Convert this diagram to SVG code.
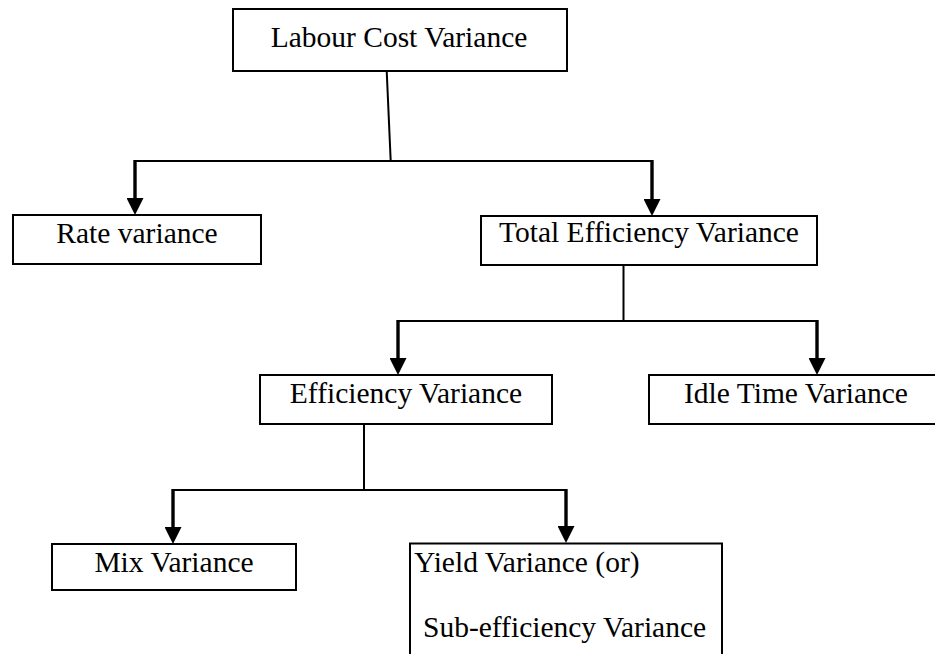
<svg xmlns="http://www.w3.org/2000/svg" width="935" height="654" viewBox="0 0 935 654">
  <style>
    .box { fill: #ffffff; stroke: #000000; stroke-width: 2; }
    .label { font-family: "Liberation Serif", "Times New Roman", serif; font-size: 29.5px; fill: #000000; }
    .mid { text-anchor: middle; }
    .link { fill: none; stroke: #000000; stroke-width: 2; }
    .drop { fill: none; stroke: #000000; stroke-width: 3.4; marker-end: url(#head); }
  </style>
  <defs>
    <marker id="head" markerUnits="userSpaceOnUse" markerWidth="17" markerHeight="17" viewBox="0 0 17 17" refX="1" refY="8.5" orient="auto">
      <path d="M0,0 L17,8.5 L0,17 Z" fill="#000000"/>
    </marker>
  </defs>

  <rect width="935" height="654" fill="#ffffff"/>

  <g id="connectors">
    <!-- Labour Cost Variance split -->
    <line class="link" x1="386.7" y1="71" x2="390.7" y2="161"/>
    <line class="link" x1="134" y1="161" x2="653" y2="161"/>
    <line class="drop" x1="135" y1="160" x2="135" y2="199"/>
    <line class="drop" x1="652" y1="160" x2="652" y2="200"/>
    <!-- Total Efficiency Variance split -->
    <line class="link" x1="623.5" y1="265" x2="623.5" y2="321"/>
    <line class="link" x1="397" y1="321" x2="818" y2="321"/>
    <line class="drop" x1="398" y1="320" x2="398" y2="359"/>
    <line class="drop" x1="817" y1="320" x2="817" y2="359"/>
    <!-- Efficiency Variance split -->
    <line class="link" x1="364" y1="424" x2="364" y2="490"/>
    <line class="link" x1="172" y1="490" x2="567" y2="490"/>
    <line class="drop" x1="173" y1="489" x2="173" y2="528"/>
    <line class="drop" x1="566" y1="489" x2="566" y2="527"/>
  </g>

  <g id="labour-cost-variance">
    <rect class="box" x="233" y="9" width="334" height="62"/>
    <text class="label mid" x="399" y="47">Labour Cost Variance</text>
  </g>

  <g id="rate-variance">
    <rect class="box" x="13" y="215" width="248" height="49"/>
    <text class="label mid" x="137" y="243">Rate variance</text>
  </g>

  <g id="total-efficiency-variance">
    <rect class="box" x="481" y="216" width="336" height="49"/>
    <text class="label mid" x="649" y="242">Total Efficiency Variance</text>
  </g>

  <g id="efficiency-variance">
    <rect class="box" x="260" y="375" width="292" height="49"/>
    <text class="label mid" x="406" y="403">Efficiency Variance</text>
  </g>

  <g id="idle-time-variance">
    <rect class="box" x="649" y="375" width="294" height="49"/>
    <text class="label mid" x="796" y="403">Idle Time Variance</text>
  </g>

  <g id="mix-variance">
    <rect class="box" x="52" y="544" width="244" height="46"/>
    <text class="label mid" x="174" y="572">Mix Variance</text>
  </g>

  <g id="yield-variance">
    <rect class="box" x="410" y="543.5" width="312" height="130"/>
    <text class="label" x="414" y="572">Yield Variance (or)</text>
    <text class="label" x="423" y="637">Sub-efficiency Variance</text>
  </g>
</svg>
